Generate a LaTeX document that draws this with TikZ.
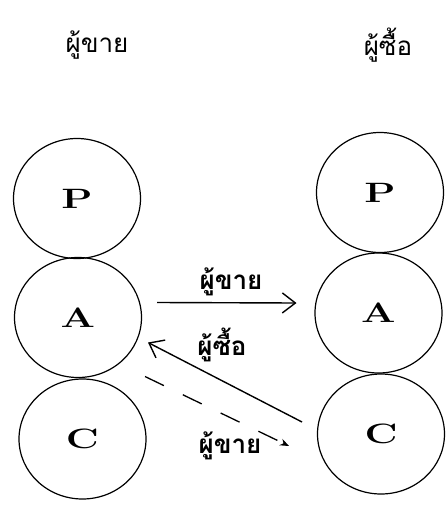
\documentclass[tikz,border=0pt]{standalone}
\usepackage{fontspec}
\newfontfamily\thaifont[Script=Thai]{Loma}
\usetikzlibrary{arrows.meta,calc,shapes.geometric}
\tikzset{
  ring/.style={ellipse,draw,line width=1.2pt,minimum width=127pt,minimum height=120pt,inner sep=0pt,
    font=\fontsize{28}{28}\selectfont\bfseries},
  head/.style={font=\thaifont\fontsize{26}{28}\selectfont},
  tlabel/.style={font=\thaifont\bfseries\fontsize{26}{28}\selectfont},
  solidarrow/.style={line width=1.4pt,-{Straight Barb[length=13pt,width=20pt,line width=1.4pt]}},
  dasharrow/.style={line width=1.3pt,dash pattern=on 21pt off 21pt,-{Stealth[length=9pt,width=7pt]}}
}
\newcommand{\wide}[1]{\scalebox{1.45}[1]{#1}}
\begin{document}
\begin{tikzpicture}[x=1pt,y=-1pt]
\path[use as bounding box,fill=white] (0,0) rectangle (447,506);
\node[head] (hl) at (97,45) {ผู้ขาย};
\node[head] (hr) at (388,45) {ผู้ซื้อ};
\node[ring] (pL) at (77,198.5) {\wide{P}};
\node[ring] (aL) at (78,317.5) {\wide{A}};
\node[ring] (cL) at (82.5,439) {\wide{C}};
\node[ring] (pR) at (380,192.5) {\wide{P}};
\node[ring] (aR) at (378.5,313) {\wide{A}};
\node[ring] (cR) at (381,434) {\wide{C}};
\draw[solidarrow] ($(aL.center)+(79,-15)$) -- ($(aR.center)+(-82,-10)$);
\node[tlabel] (l1) at (231,282) {ผู้ขาย};
\draw[solidarrow] ($(cR.center)+(-79,-12)$) -- ($(aL.center)+(70,25)$);
\node[tlabel] (l2) at (222,345) {ผู้ซื้อ};
\draw[dasharrow] ($(aL.center)+(67,59)$) -- ($(cR.center)+(-92,12)$);
\node[tlabel] (l3) at (230,446) {ผู้ขาย};
\end{tikzpicture}
\end{document}
